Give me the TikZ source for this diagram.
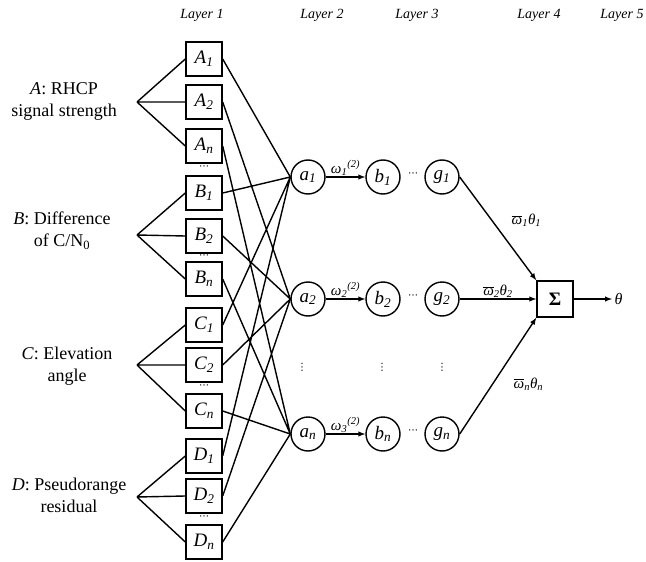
\documentclass[tikz,border=0pt]{standalone}
\usepackage{fontspec}
\setmainfont{Liberation Serif}
\newfontfamily\symfont{DejaVu Sans}
\usepackage{tikz}
\usetikzlibrary{arrows,shapes}
\tikzstyle{anfis}=[x=1pt,y=-1pt,line width=1.4pt,>=latex]
\tikzstyle{mf}=[draw=black,rectangle,minimum width=36pt,minimum height=34pt,
                inner sep=0pt,font=\fontsize{19}{19}\selectfont]
\tikzstyle{unit}=[draw=black,circle,minimum size=34pt,inner sep=0pt,
                font=\fontsize{19}{19}\selectfont]
\tikzstyle{layer}=[font=\fontsize{14}{14}\selectfont\itshape]
\tikzstyle{inp}=[align=center,font=\fontsize{18}{22}\selectfont]
\tikzstyle{elabel}=[fill=none,text=black,inner sep=1pt,
                font=\fontsize{15}{15}\selectfont, draw=none]
\tikzstyle{gap}=[inner sep=0pt,font=\fontsize{10}{10}\symfont]
\newcommand{\vr}[2]{\textit{#1}\textsubscript{\textit{#2}}}
\newcommand{\wbar}{\ensuremath{\overline{\mbox{\textit{ω}}}}}

\begin{document}
\begin{tikzpicture}[anfis]
  \path[use as bounding box] (0,0) rectangle (646,562);
  % layer titles
  \node[layer] (L1) at (202,15) {Layer 1};
  \node[layer] (L2) at (322,15) {Layer 2};
  \node[layer] (L3) at (417,15) {Layer 3};
  \node[layer] (L4) at (539,15) {Layer 4};
  \node[layer] (L5) at (622,15) {Layer 5};
  % inputs
  \node[inp] (inA) at (64,101) {\textit{A}: RHCP\\signal strength};
  \node[inp] (inB) at (62,231) {\textit{B}: Difference\\of C/N\textsubscript{0}};
  \node[inp] (inC) at (67,366) {\textit{C}: Elevation\\angle};
  \node[inp] (inD) at (69,495) {\textit{D}: Pseudorange\\residual};
  \coordinate (fA) at (137,102);
  \coordinate (fB) at (137,235);
  \coordinate (fC) at (137,365);
  \coordinate (fD) at (137,497);
  % layer 1
  \node[mf] (A1) at (204,59) {\vr{A}{1}};
  \node[mf] (A2) at (204,102) {\vr{A}{2}};
  \node[mf] (An) at (204,146) {\vr{A}{n}};
  \node[mf] (B1) at (204,193) {\vr{B}{1}};
  \node[mf] (B2) at (204,236) {\vr{B}{2}};
  \node[mf] (Bn) at (204,279) {\vr{B}{n}};
  \node[mf] (C1) at (204,325) {\vr{C}{1}};
  \node[mf] (C2) at (204,365) {\vr{C}{2}};
  \node[mf] (Cn) at (204,411) {\vr{C}{n}};
  \node[mf] (D1) at (204,456) {\vr{D}{1}};
  \node[mf] (D2) at (204,496) {\vr{D}{2}};
  \node[mf] (Dn) at (204,542) {\vr{D}{n}};
  \node[gap] (dAB) at (204,168) {⋯};
  \node[gap] (dB) at (204,257) {⋯};
  \node[gap] (dC) at (204,387) {⋯};
  \node[gap] (dD) at (204,518) {⋯};
  % layers 2 and 3
  \node[unit] (a1) at (308,177) {\vr{a}{1}};
  \node[unit] (b1) at (383,177) {\vr{b}{1}};
  \node[unit] (g1) at (442,177) {\vr{g}{1}};
  \node[unit] (a2) at (308,299) {\vr{a}{2}};
  \node[unit] (b2) at (383,299) {\vr{b}{2}};
  \node[unit] (g2) at (442,299) {\vr{g}{2}};
  \node[unit] (an) at (308,434) {\vr{a}{n}};
  \node[unit] (bn) at (383,434) {\vr{b}{n}};
  \node[unit] (gn) at (442,434) {\vr{g}{n}};
  \node[gap] (h1) at (413,175) {⋯};
  \node[gap] (h2) at (413,297) {⋯};
  \node[gap] (hn) at (413,432) {⋯};
  \node[gap] (va) at (302,367) {⋮};
  \node[gap] (vb) at (382,367) {⋮};
  \node[gap] (vg) at (442,367) {⋮};
  % layers 4 and 5
  \node[mf, minimum height=36pt, font=\fontsize{19}{19}\selectfont\bfseries] (S) at (555,299) {Σ};
  \node[anchor=west, inner sep=2pt, font=\fontsize{16}{16}\selectfont\itshape] (th) at (612,299) {θ};

  \path[draw]
    (fA) -- (A1.west) (fA) -- (A2.west) (fA) -- (An.west)
    (fB) -- (B1.west) (fB) -- (B2.west) (fB) -- (Bn.west)
    (fC) -- (C1.west) (fC) -- (C2.west) (fC) -- (Cn.west)
    (fD) -- (D1.west) (fD) -- (D2.west) (fD) -- (Dn.west);
  \path[draw]
    (A1.east) -- (a1.west) (B1.east) -- (a1.west) (C1.east) -- (a1.west) (D1.east) -- (a1.west)
    (A2.east) -- (a2.west) (B2.east) -- (a2.west) (C2.east) -- (a2.west) (D2.east) -- (a2.west)
    (An.east) -- (an.west) (Bn.east) -- (an.west) (Cn.east) -- (an.west) (Dn.east) -- (an.west);
  \path[->]
    (a1) edge node[elabel, above] {\textit{ω}\textsubscript{\textit{1}}\textsuperscript{\textit{(2)}}} (b1)
    (a2) edge node[elabel, above] {\textit{ω}\textsubscript{\textit{2}}\textsuperscript{\textit{(2)}}} (b2)
    (an) edge node[elabel, above] {\textit{ω}\textsubscript{\textit{3}}\textsuperscript{\textit{(2)}}} (bn)
    (g1.east) edge node[elabel, above right, xshift=12pt] {\wbar\textsubscript{\textit{1}}\vr{θ}{1}} (S.north west)
    (g2.east) edge node[elabel, above] {\wbar\textsubscript{\textit{2}}\vr{θ}{2}} (S.west)
    (gn.east) edge node[elabel, below right, xshift=14pt] {\wbar\textsubscript{\textit{n}}\vr{θ}{n}} (S.south west)
    (S) edge (th);
\end{tikzpicture}
\end{document}
